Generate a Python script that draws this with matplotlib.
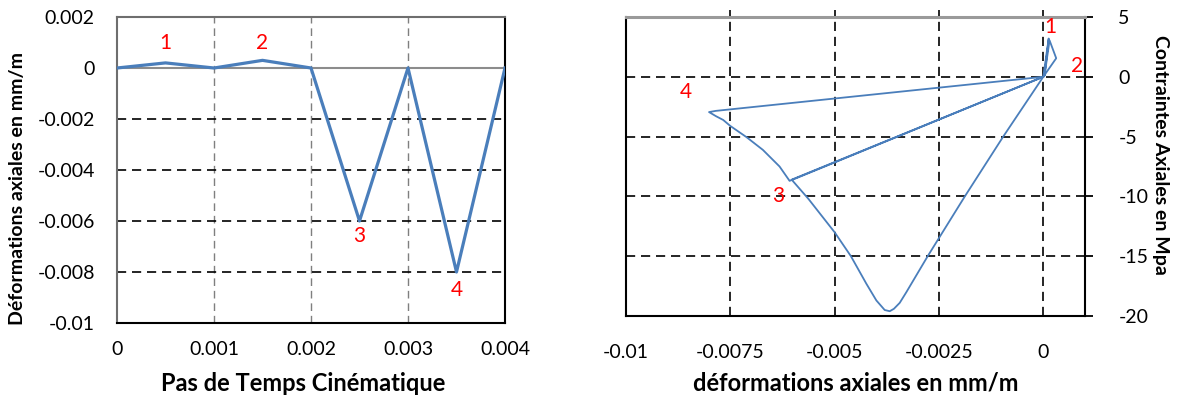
import matplotlib
matplotlib.use("Agg")
import matplotlib.pyplot as plt

plt.rcParams.update({
    "font.family": ["Lato", "DejaVu Sans"], "font.size": 14,
    "axes.unicode_minus": False,
})

BLUE = "#4a7ebb"

# left panel: strain vs kinematic time step
time_steps = [0, 0.0005, 0.001, 0.0015, 0.002, 0.0025, 0.003, 0.0035, 0.004]
strain_t = [0, 0.0002, 0, 0.0003, 0, -0.006, 0, -0.008, 0]
left_xticks = [0, 0.001, 0.002, 0.003, 0.004]
left_xticklabels = ["0", "0.001", "0.002", "0.003", "0.004"]
left_yticks = [0.002, 0, -0.002, -0.004, -0.006, -0.008, -0.01]
left_yticklabels = ["0.002", "0", "-0.002", "-0.004", "-0.006", "-0.008", "-0.01"]
left_marks = ["1", "2", "3", "4"]
left_mark_x = [0.0005, 0.0015, 0.0025, 0.0035]
left_mark_y = [0.00098, 0.00098, -0.0066, -0.0087]

# right panel: stress-strain hysteresis
strain = [0, 0.00013, 0.00003, 0.00015, 0.00031, 0,
          -0.00096, -0.00188, -0.00277, -0.00328, -0.00344, -0.00358, -0.00368,
          -0.0038, -0.0040, -0.00424, -0.00461, -0.0050, -0.00563, -0.00603,
          0,
          -0.0059, -0.00608,
          -0.00632, -0.00672, -0.00711, -0.0075, -0.00767, -0.00784, -0.00801,
          -0.00785, 0]
stress = [0, 3.2, 0.1, 3.05, 1.55, 0,
          -5, -10, -15, -18, -18.9, -19.4, -19.6,
          -19.5, -18.7, -17.3, -15, -13, -10.2, -8.6,
          0,
          -8.45, -8.7,
          -7.5, -6.11, -5.05, -4.11, -3.61, -3.3, -2.95,
          -2.85, 0]
right_xticks = [-0.01, -0.0075, -0.005, -0.0025, 0]
right_xticklabels = ["-0.01", "-0.0075", "-0.005", "-0.0025", "0"]
right_yticks = [5, 0, -5, -10, -15, -20]
right_marks = ["1", "2", "3", "4"]
right_mark_x = [0.00017, 0.00082, -0.00635, -0.00856]
right_mark_y = [4.2, 0.9, -10.0, -1.3]

DASH = (0, (5.5, 3.5))

fig = plt.figure(figsize=(11.82, 3.98), dpi=100)

# ---- left panel
ax = fig.add_axes([117 / 1182, 1 - 323 / 398, 388 / 1182, 306 / 398])
ax.set_xlim(0, 0.004)
ax.set_ylim(-0.01, 0.002)
for x in left_xticks[1:-1]:
    ax.axvline(x, color="#7f7f7f", lw=1.0, ls=DASH, zorder=1)
for y in left_yticks[2:-1]:
    ax.axhline(y, color="black", lw=1.2, ls=DASH, zorder=1)
ax.axhline(0, color="#8c8c8c", lw=1.5, zorder=1)
ax.plot(time_steps, strain_t, color=BLUE, lw=2.3, zorder=3)
for t, x, y in zip(left_marks, left_mark_x, left_mark_y):
    ax.text(x, y, t, color="red", fontsize=15, ha="center", va="center")
ax.set_xticks(left_xticks)
ax.set_xticklabels(left_xticklabels)
ax.set_yticks(left_yticks)
ax.set_yticklabels(left_yticklabels)
ax.tick_params(length=0, pad=13, labelsize=14)
ax.tick_params(axis="y", pad=16)
for s in ["left", "top"]:
    ax.spines[s].set_color("#6e6e6e")
    ax.spines[s].set_linewidth(1.5)
for s in ["bottom", "right"]:
    ax.spines[s].set_color("black")
    ax.spines[s].set_linewidth(1.5)
ax.set_xlabel("Pas de Temps Cinématique", fontweight="bold", fontsize=17)
ax.xaxis.set_label_coords(0.48, -0.16)
ax.set_ylabel("Déformations axiales en mm/m", fontweight="bold", fontsize=14)
ax.yaxis.set_label_coords(-0.235, 0.44)

# ---- right panel
ax2 = fig.add_axes([626 / 1182, 1 - 316 / 398, 459 / 1182, 299 / 398])
ax2.set_xlim(-0.01, 0.001)
ax2.set_ylim(-20, 5)
for x in right_xticks[1:]:
    ax2.axvline(x, ymin=0, ymax=1.025, color="black", lw=1.2, ls=DASH,
                zorder=1, clip_on=False)
for y in right_yticks[1:-1]:
    ax2.axhline(y, color="black", lw=1.2, ls=DASH, zorder=1)
ax2.plot(strain, stress, color=BLUE, lw=1.3, zorder=3)
for t, x, y in zip(right_marks, right_mark_x, right_mark_y):
    ax2.text(x, y, t, color="red", fontsize=15, ha="center", va="center")
ax2.set_xticks(right_xticks)
ax2.set_xticklabels(right_xticklabels)
ax2.set_yticks(right_yticks)
ax2.yaxis.tick_right()
ax2.yaxis.set_label_position("right")
ax2.tick_params(axis="x", length=0, pad=20, labelsize=14)
ax2.tick_params(axis="y", direction="out", length=6, width=1.3, pad=18, labelsize=14)
for s in ["left", "bottom", "right"]:
    ax2.spines[s].set_color("black")
    ax2.spines[s].set_linewidth(1.5)
ax2.spines["top"].set_color("#9a9a9a")
ax2.spines["top"].set_linewidth(2.2)
ax2.set_xlabel("déformations axiales en mm/m", fontweight="bold", fontsize=17)
ax2.xaxis.set_label_coords(0.5, -0.185)
ax2.set_ylabel("Contraintes Axiales en Mpa", fontweight="bold", fontsize=14,
               rotation=-90, va="center")
ax2.yaxis.set_label_coords(1.165, 0.54)

fig.savefig("out.png", dpi=100)
